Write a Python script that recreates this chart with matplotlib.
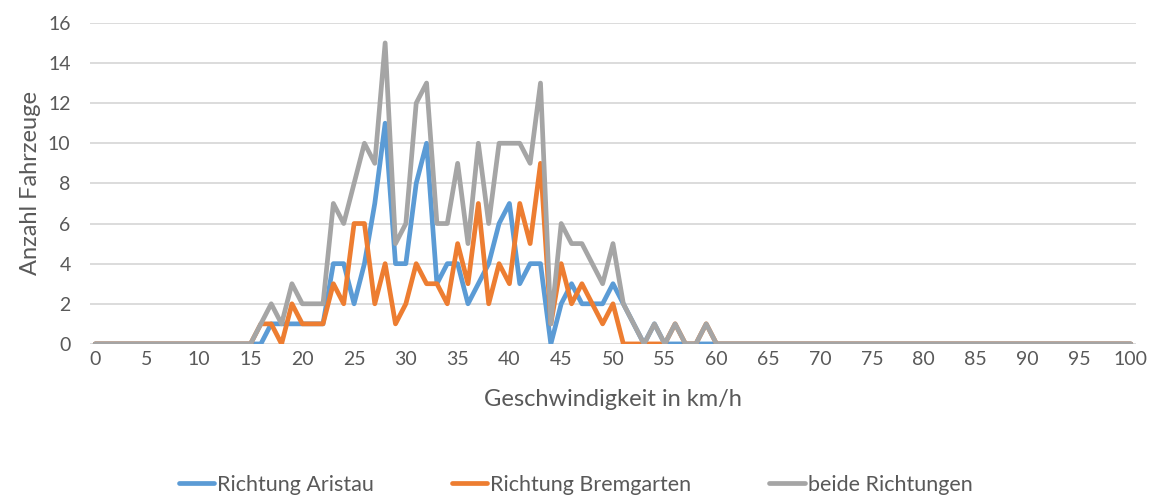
import matplotlib
matplotlib.use("Agg")
import matplotlib.pyplot as plt
import numpy as np

plt.rcParams['font.family'] = ['Lato', 'DejaVu Sans']

# speed classes in km/h (0..100)
speed = np.arange(0, 101)

# vehicles per speed, only 15..60 non-zero
start = 15
aristau_part = [0, 0, 1, 1, 1, 1, 1, 1, 4, 4, 2, 4, 7, 11, 4, 4, 8, 10, 3, 4,
                4, 2, 3, 4, 6, 7, 3, 4, 4, 0, 2, 3, 2, 2, 2, 3, 2, 1, 0, 1,
                0, 0, 0, 0, 0, 0]
bremgarten_part = [0, 1, 1, 0, 2, 1, 1, 1, 3, 2, 6, 6, 2, 4, 1, 2, 4, 3, 3, 2,
                   5, 3, 7, 2, 4, 3, 7, 5, 9, 1, 4, 2, 3, 2, 1, 2, 0, 0, 0, 0,
                   0, 1, 0, 0, 1, 0]
beide_part = [0, 1, 2, 1, 3, 2, 2, 2, 7, 6, 8, 10, 9, 15, 5, 6, 12, 13, 6, 6,
              9, 5, 10, 6, 10, 10, 10, 9, 13, 1, 6, 5, 5, 4, 3, 5, 2, 1, 0, 1,
              0, 1, 0, 0, 1, 0]


def full(part):
    arr = np.zeros(len(speed))
    arr[start:start + len(part)] = part
    return arr


series = [
    ("Richtung Aristau", full(aristau_part), "#5B9BD5"),
    ("Richtung Bremgarten", full(bremgarten_part), "#ED7D31"),
    ("beide Richtungen", full(beide_part), "#A5A5A5"),
]

text_col = "#595959"

fig = plt.figure(figsize=(11.58, 4.97), dpi=100)
ax = fig.add_axes([0.0777, 0.308, 0.9033, 0.646])

for name, vals, col in series:
    ax.plot(speed, vals, color=col, lw=3.4, label=name,
            solid_joinstyle='round', solid_capstyle='round')

ax.set_xlim(-0.5, 100.5)
ax.set_ylim(0, 16)
ax.set_yticks(np.arange(0, 17, 2))
ax.set_xticks(np.arange(0, 101, 5))
ax.yaxis.grid(True, color="#D9D9D9", lw=1.3)
ax.set_axisbelow(True)
for s in ax.spines.values():
    s.set_visible(False)
ax.tick_params(length=0, labelsize=14, colors=text_col, pad=5)
ax.tick_params(axis='y', pad=14)

ax.set_xlabel("Geschwindigkeit in km/h", fontsize=17, color=text_col, labelpad=15)
ax.set_ylabel("Anzahl Fahrzeuge", fontsize=17, color=text_col, labelpad=5)

handles, labels = ax.get_legend_handles_labels()
fig.legend(handles, labels, loc='center', bbox_to_anchor=(0.497, 0.025), ncol=3,
           frameon=False, fontsize=15.5, handlelength=1.65, columnspacing=3.6,
           handletextpad=0.15, labelcolor=text_col)

fig.savefig("out.png", dpi=100)
